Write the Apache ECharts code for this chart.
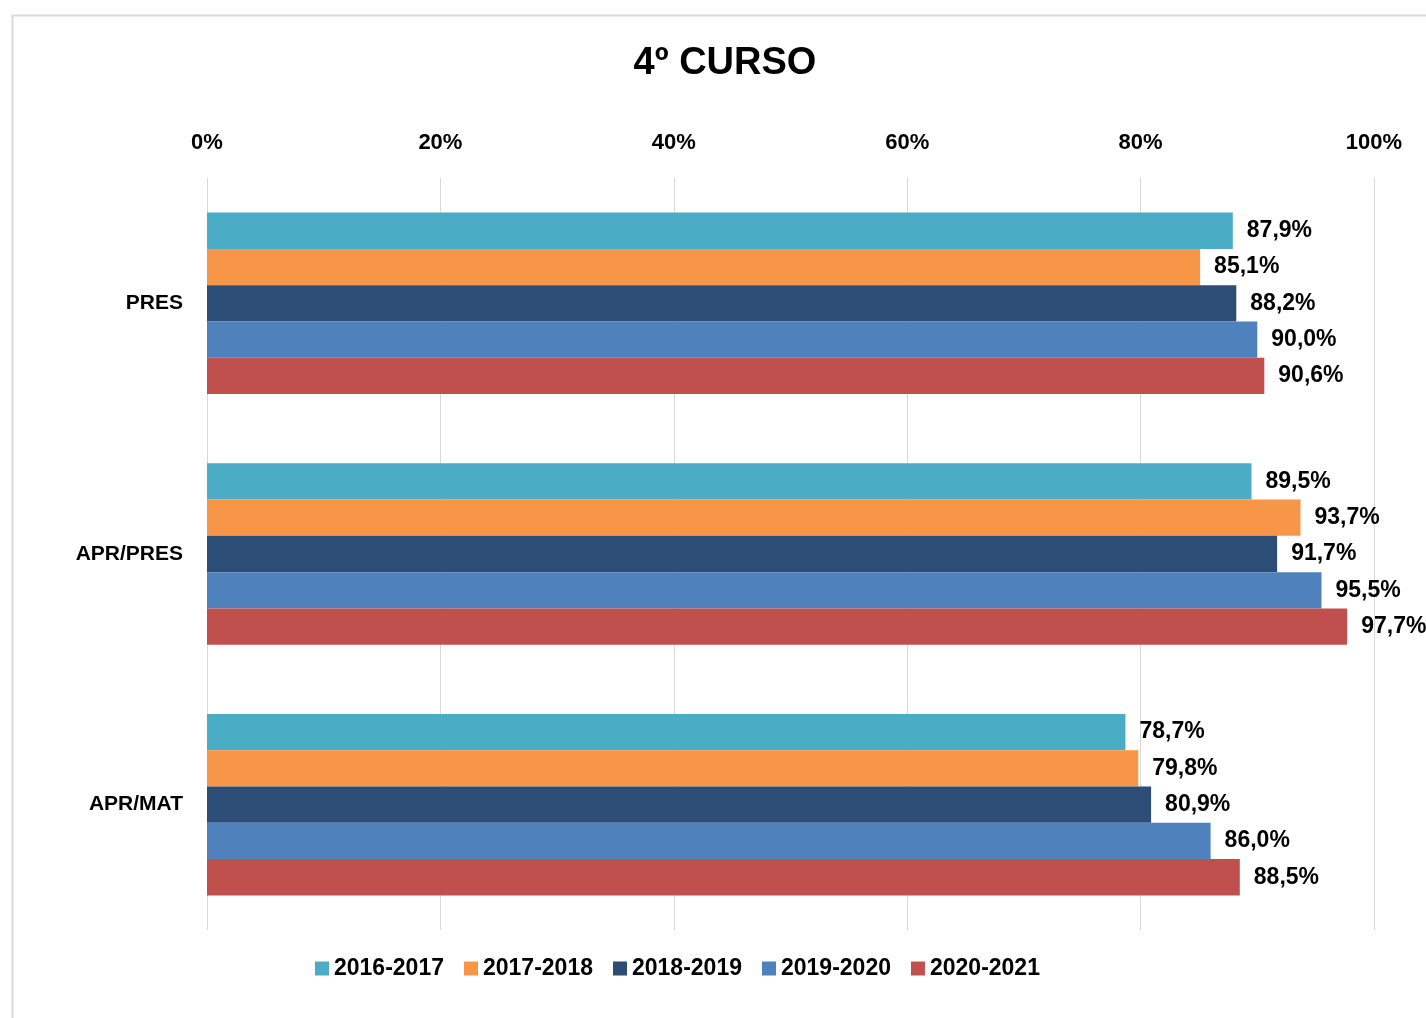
<!DOCTYPE html>
<html>
<head>
<meta charset="utf-8">
<script src="https://cdn.jsdelivr.net/npm/echarts@6/dist/echarts.min.js"></script>
<style>
html,body{margin:0;padding:0;background:#fff;}
#main{width:1426px;height:1018px;}
</style>
</head>
<body>
<div id="main"></div>
<script>
const categories = ['PRES', 'APR/PRES', 'APR/MAT'];
const seriesNames = ['2016-2017', '2017-2018', '2018-2019', '2019-2020', '2020-2021'];
const s2016 = [87.9, 89.5, 78.7];
const s2017 = [85.1, 93.7, 79.8];
const s2018 = [88.2, 91.7, 80.9];
const s2019 = [90.0, 95.5, 86.0];
const s2020 = [90.6, 97.7, 88.5];
const colors = ['#4BACC6', '#F79646', '#2C4D75', '#4F81BD', '#C0504D'];
const allData = [s2016, s2017, s2018, s2019, s2020];

const FONT = '"Liberation Sans", Arial, sans-serif';
const chart = echarts.init(document.getElementById('main'));
chart.setOption({
  backgroundColor: '#fff',
  animation: false,
  graphic: [{
    type: 'rect', left: 10, top: 13,
    shape: { width: 1440, height: 1040 },
    style: { fill: 'none', stroke: '#d9d9d9', lineWidth: 2 }
  }],
  title: {
    text: '4º CURSO',
    left: 720, top: 40, textAlign: 'center',
    textStyle: { fontFamily: FONT, fontWeight: 'bold', fontSize: 38, color: '#000' }
  },
  legend: {
    data: seriesNames,
    left: 310, top: 952,
    itemWidth: 14, itemHeight: 14, itemGap: 20,
    icon: 'rect',
    textStyle: { fontFamily: FONT, fontWeight: 'bold', fontSize: 23, color: '#000' }
  },
  grid: { left: 207, right: 52, top: 178, bottom: 88, containLabel: false },
  xAxis: {
    type: 'value', position: 'top', min: 0, max: 100, interval: 20,
    axisLine: { show: false }, axisTick: { show: false },
    axisLabel: { formatter: '{value}%', margin: 24, fontFamily: FONT, fontWeight: 'bold', fontSize: 22, color: '#000' },
    splitLine: { lineStyle: { color: '#d9d9d9', width: 1 } }
  },
  yAxis: {
    type: 'category', data: categories, inverse: true,
    axisLine: { show: false }, axisTick: { show: false },
    axisLabel: { margin: 24, fontFamily: FONT, fontWeight: 'bold', fontSize: 21, color: '#000' }
  },
  series: seriesNames.map((n, i) => ({
    name: n, type: 'bar', data: allData[i],
    barGap: '0%', barCategoryGap: '27.6%',
    itemStyle: { color: colors[i] },
    label: {
      show: true, position: 'right', distance: 14,
      fontFamily: FONT, fontWeight: 'bold', fontSize: 23, color: '#000',
      formatter: p => p.value.toFixed(1).replace('.', ',') + '%'
    }
  }))
});
</script>
</body>
</html>
